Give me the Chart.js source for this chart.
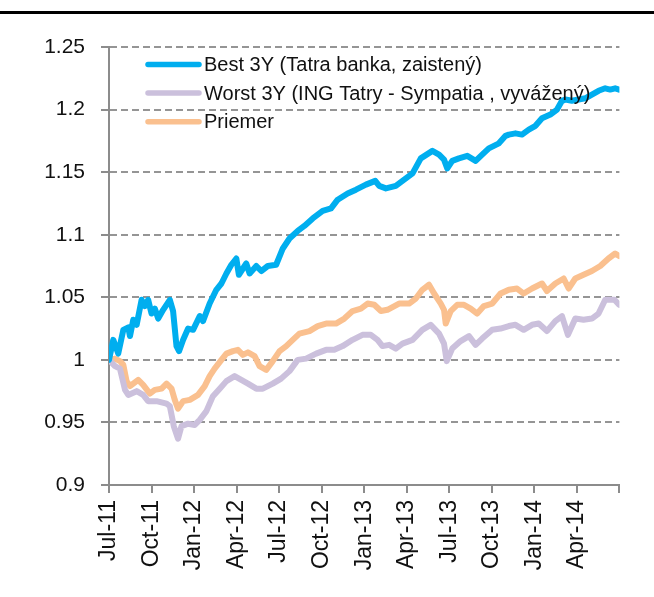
<!DOCTYPE html>
<html>
<head>
<meta charset="utf-8">
<script src="https://cdn.jsdelivr.net/npm/chart.js@4/dist/chart.umd.min.js"></script>
<style>
  body { margin: 0; background: #fff; }
  #wrap { position: relative; width: 654px; height: 597px; }
  #rule { position: absolute; left: 0; top: 11px; width: 654px; height: 3px; background: #000; }
</style>
</head>
<body>
<div id="wrap">
  <div id="rule"></div>
  <canvas id="myChart"></canvas>
</div>
<script>
// quarter labels on the x axis (months since Jul-11, every 3)
const xLabels = ['Jul-11', 'Oct-11', 'Jan-12', 'Apr-12', 'Jul-12', 'Oct-12', 'Jan-13', 'Apr-13', 'Jul-13', 'Oct-13', 'Jan-14', 'Apr-14', ''];

const seriesNames = ['Best 3Y (Tatra banka, zaistený)', 'Worst 3Y (ING Tatry - Sympatia , vyvážený)', 'Priemer'];

// Best 3Y
const bestMonths = [0, 0.30, 0.65, 1.01, 1.36, 1.48, 1.71, 1.95, 2.30, 2.53, 2.76, 3.00, 3.23, 3.47, 3.82, 4.29, 4.52, 4.76, 4.94, 5.23, 5.58, 5.93, 6.40, 6.63, 7.10, 7.57, 7.93, 8.28, 8.63, 8.98, 9.16, 9.68, 9.92, 10.39, 10.74, 11.20, 11.79, 12.26, 12.73, 13.31, 13.78, 14.37, 15.07, 15.66, 16.13, 16.83, 17.42, 18.12, 18.78, 19.06, 19.53, 20.23, 20.70, 21.41, 21.99, 22.81, 23.28, 23.63, 23.86, 24.21, 24.68, 25.27, 25.86, 26.32, 26.79, 27.50, 27.97, 28.20, 28.67, 29.13, 29.61, 30.08, 30.54, 31.13, 31.60, 31.95, 32.19, 32.65, 33.12, 33.59, 34.06, 34.53, 35.00, 35.35, 35.70, 35.98];
const bestValues = [1.000, 1.016, 1.005, 1.024, 1.026, 1.019, 1.032, 1.028, 1.048, 1.043, 1.048, 1.037, 1.041, 1.033, 1.040, 1.048, 1.039, 1.011, 1.007, 1.016, 1.025, 1.024, 1.035, 1.031, 1.045, 1.056, 1.061, 1.069, 1.076, 1.081, 1.068, 1.077, 1.069, 1.075, 1.071, 1.075, 1.076, 1.089, 1.097, 1.103, 1.107, 1.113, 1.119, 1.121, 1.128, 1.133, 1.136, 1.140, 1.143, 1.139, 1.137, 1.139, 1.143, 1.149, 1.161, 1.167, 1.164, 1.160, 1.153, 1.159, 1.161, 1.163, 1.159, 1.164, 1.169, 1.173, 1.179, 1.180, 1.181, 1.180, 1.184, 1.187, 1.193, 1.196, 1.200, 1.207, 1.208, 1.207, 1.208, 1.209, 1.212, 1.215, 1.217, 1.216, 1.217, 1.216];

// Worst 3Y
const worstMonths = [0, 0.42, 0.77, 1.13, 1.36, 1.95, 2.41, 2.76, 3.35, 4.06, 4.29, 4.57, 4.87, 5.11, 5.58, 6.05, 6.40, 6.87, 7.33, 7.81, 8.28, 8.86, 9.33, 9.80, 10.39, 10.85, 11.55, 12.14, 12.73, 13.31, 13.90, 14.61, 15.31, 15.89, 16.48, 17.18, 17.88, 18.47, 18.94, 19.29, 19.76, 20.23, 20.70, 21.41, 22.10, 22.69, 23.28, 23.63, 23.82, 24.21, 24.80, 25.39, 25.86, 26.32, 27.03, 27.62, 28.20, 28.67, 29.25, 29.84, 30.31, 30.89, 31.48, 31.95, 32.37, 32.89, 33.47, 34.06, 34.53, 35.00, 35.35, 35.65, 35.98];
const worstValues = [1.000, 0.995, 0.993, 0.976, 0.972, 0.975, 0.972, 0.967, 0.967, 0.965, 0.963, 0.947, 0.937, 0.947, 0.949, 0.948, 0.952, 0.959, 0.971, 0.977, 0.983, 0.987, 0.984, 0.981, 0.977, 0.977, 0.981, 0.985, 0.991, 1.000, 1.001, 1.005, 1.008, 1.008, 1.011, 1.016, 1.020, 1.020, 1.016, 1.011, 1.012, 1.009, 1.013, 1.016, 1.024, 1.028, 1.021, 1.013, 0.999, 1.009, 1.015, 1.019, 1.012, 1.017, 1.024, 1.025, 1.027, 1.028, 1.024, 1.028, 1.029, 1.023, 1.031, 1.035, 1.020, 1.033, 1.032, 1.033, 1.037, 1.048, 1.048, 1.048, 1.044];

// Priemer
const avgMonths = [0, 0.42, 0.77, 1.01, 1.24, 1.48, 1.71, 2.06, 2.41, 2.88, 3.23, 3.71, 4.06, 4.41, 4.64, 4.87, 5.23, 5.70, 6.28, 6.75, 7.10, 7.45, 7.93, 8.28, 8.74, 9.09, 9.44, 9.80, 10.27, 10.62, 11.09, 11.55, 12.03, 12.50, 12.96, 13.43, 14.14, 14.72, 15.31, 16.01, 16.60, 17.18, 17.77, 18.24, 18.71, 19.18, 19.64, 20.46, 21.17, 21.64, 22.10, 22.57, 22.93, 23.40, 23.63, 23.75, 24.10, 24.56, 25.04, 25.51, 25.97, 26.44, 27.03, 27.62, 28.20, 28.78, 29.25, 29.84, 30.54, 30.89, 31.48, 32.07, 32.42, 32.89, 33.47, 34.06, 34.65, 35.23, 35.70, 35.98];
const avgValues = [1.000, 1.001, 0.999, 0.996, 0.983, 0.979, 0.981, 0.984, 0.980, 0.973, 0.976, 0.977, 0.981, 0.977, 0.968, 0.961, 0.967, 0.968, 0.972, 0.979, 0.987, 0.993, 1.000, 1.005, 1.007, 1.008, 1.004, 1.006, 1.003, 0.995, 0.992, 0.999, 1.007, 1.011, 1.016, 1.021, 1.023, 1.027, 1.029, 1.029, 1.033, 1.039, 1.041, 1.045, 1.044, 1.039, 1.040, 1.045, 1.045, 1.049, 1.056, 1.060, 1.053, 1.045, 1.040, 1.029, 1.039, 1.044, 1.044, 1.041, 1.037, 1.043, 1.045, 1.053, 1.056, 1.057, 1.053, 1.057, 1.061, 1.055, 1.061, 1.065, 1.057, 1.065, 1.068, 1.071, 1.075, 1.081, 1.085, 1.083];

const FONT = "'Liberation Sans', Arial, sans-serif";
const AXIS_GREY = '#8c8c8c';

function toPoints(months, values) {
    return months.map((m, i) => ({ x: m, y: values[i] }));
}

function lineSet(label, color, months, values) {
    return {
        label: label,
        data: toPoints(months, values),
        borderColor: color,
        backgroundColor: color,
        borderWidth: 6,
        pointRadius: 0,
        tension: 0,
        borderCapStyle: 'round',
        borderJoinStyle: 'round'
    };
}

// legend drawn inside the plot, top-left, one row per series
const insideLegend = {
    id: 'insideLegend',
    afterDatasetsDraw(chart) {
        const ctx = chart.ctx;
        ctx.save();
        ctx.font = '20px ' + FONT;
        ctx.textBaseline = 'middle';
        chart.data.datasets.forEach((ds, i) => {
            const y = 64.5 + i * 28.6;
            ctx.strokeStyle = ds.borderColor;
            ctx.lineWidth = 5.5;
            ctx.lineCap = 'round';
            ctx.beginPath();
            ctx.moveTo(148, y);
            ctx.lineTo(199, y);
            ctx.stroke();
            ctx.fillStyle = '#111';
            ctx.fillText(ds.label, 204, y + 1);
        });
        ctx.restore();
    }
};

const canvasContext = document.getElementById('myChart').getContext('2d');
const myChart = new Chart(canvasContext, {
    type: 'line',
    data: {
        datasets: [
            lineSet(seriesNames[0], '#00aeef', bestMonths, bestValues),
            lineSet(seriesNames[1], '#cbc0dc', worstMonths, worstValues),
            lineSet(seriesNames[2], '#fac08f', avgMonths, avgValues)
        ]
    },
    options: {
        responsive: true,
        maintainAspectRatio: false,
        animation: false,
        layout: { padding: { top: 47, right: 33, bottom: 0, left: 0 } },
        plugins: {
            legend: { display: false },
            tooltip: { enabled: false }
        },
        scales: {
            x: {
                type: 'linear',
                min: 0,
                max: 36,
                afterFit: (scale) => { scale.height = 112; },
                ticks: {
                    stepSize: 3,
                    autoSkip: false,
                    maxRotation: 90,
                    minRotation: 90,
                    padding: 7,
                    color: '#111',
                    font: { family: FONT, size: 23 },
                    callback: function (value, index) {
                        return xLabels[index] !== undefined ? xLabels[index] : '';
                    }
                },
                grid: {
                    drawOnChartArea: false,
                    color: AXIS_GREY,
                    lineWidth: 2,
                    tickLength: 8
                },
                border: { color: AXIS_GREY, width: 2 }
            },
            y: {
                min: 0.9,
                max: 1.25,
                afterFit: (scale) => { scale.width = 109; },
                ticks: {
                    stepSize: 0.05,
                    padding: 16,
                    color: '#111',
                    font: { family: FONT, size: 21 },
                    callback: function (value) {
                        return String(parseFloat(value.toFixed(2)));
                    }
                },
                grid: {
                    color: '#959595',
                    lineWidth: 2,
                    tickLength: 8,
                    tickColor: AXIS_GREY
                },
                border: { color: AXIS_GREY, width: 2, dash: [7, 4] }
            }
        }
    },
    plugins: [insideLegend]
});
</script>
</body>
</html>
